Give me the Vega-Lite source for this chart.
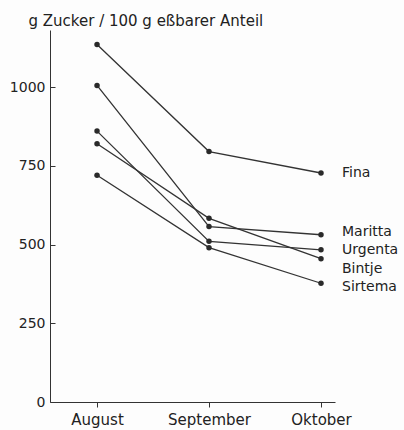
{
  "$schema": "https://vega.github.io/schema/vega-lite/v6.json",
  "autosize": {"type": "none"},
  "padding": {"left": 50, "top": 30, "right": 69, "bottom": 28},
  "width": 285,
  "height": 372,
  "background": "#fdfdfd",
  "config": {
    "view": {"stroke": null},
    "font": "DejaVu Sans",
    "axis": {"domainColor": "#333", "tickColor": "#333", "labelColor": "#222", "titleColor": "#222", "grid": false, "labelFont": "DejaVu Sans", "titleFont": "DejaVu Sans", "titleFontWeight": "normal"}
  },
  "data": {
    "values": [
      {"sorte": "Fina", "monat": 8, "zucker": 1135},
      {"sorte": "Fina", "monat": 9, "zucker": 795},
      {"sorte": "Fina", "monat": 10, "zucker": 727},
      {"sorte": "Maritta", "monat": 8, "zucker": 1005},
      {"sorte": "Maritta", "monat": 9, "zucker": 557},
      {"sorte": "Maritta", "monat": 10, "zucker": 531},
      {"sorte": "Urgenta", "monat": 8, "zucker": 860},
      {"sorte": "Urgenta", "monat": 9, "zucker": 510},
      {"sorte": "Urgenta", "monat": 10, "zucker": 483},
      {"sorte": "Bintje", "monat": 8, "zucker": 820},
      {"sorte": "Bintje", "monat": 9, "zucker": 583},
      {"sorte": "Bintje", "monat": 10, "zucker": 455},
      {"sorte": "Sirtema", "monat": 8, "zucker": 720},
      {"sorte": "Sirtema", "monat": 9, "zucker": 490},
      {"sorte": "Sirtema", "monat": 10, "zucker": 377}
    ]
  },
  "encoding": {
    "x": {
      "field": "monat",
      "type": "quantitative",
      "scale": {"domain": [7.58, 10.125], "nice": false, "zero": false},
      "axis": {
        "title": null,
        "values": [8, 9, 10],
        "labelExpr": "datum.value == 8 ? 'August' : datum.value == 9 ? 'September' : 'Oktober'",
        "labelFontSize": 15,
        "tickSize": 5,
        "labelPadding": 5,
        "labelFlush": false
      }
    },
    "y": {
      "field": "zucker",
      "type": "quantitative",
      "scale": {"domain": [0, 1181], "nice": false},
      "axis": {
        "title": "g Zucker / 100 g eßbarer Anteil",
        "titleAngle": 0,
        "titleAlign": "left",
        "titleBaseline": "alphabetic",
        "titleX": -22,
        "titleY": -5,
        "titleFontSize": 15,
        "values": [0, 250, 500, 750, 1000],
        "format": "d",
        "labelFontSize": 14,
        "tickSize": -5,
        "labelPadding": 10,
        "labelFlush": false
      }
    }
  },
  "layer": [
    {
      "mark": {"type": "line", "color": "#333", "strokeWidth": 1.3},
      "encoding": {"detail": {"field": "sorte"}}
    },
    {
      "mark": {"type": "circle", "color": "#2a2a2a", "size": 30, "opacity": 1}
    },
    {
      "transform": [{"filter": "datum.monat == 10 && (datum.sorte == 'Fina' || datum.sorte == 'Urgenta')"}],
      "mark": {"type": "text", "align": "left", "baseline": "middle", "dx": 21, "fontSize": 14, "color": "#222"},
      "encoding": {"text": {"field": "sorte"}}
    },
    {
      "transform": [{"filter": "datum.monat == 10 && datum.sorte == 'Maritta'"}],
      "mark": {"type": "text", "align": "left", "baseline": "middle", "dx": 21, "dy": -3, "fontSize": 14, "color": "#222"},
      "encoding": {"text": {"field": "sorte"}}
    },
    {
      "transform": [{"filter": "datum.monat == 10 && datum.sorte == 'Bintje'"}],
      "mark": {"type": "text", "align": "left", "baseline": "middle", "dx": 21, "dy": 10, "fontSize": 14, "color": "#222"},
      "encoding": {"text": {"field": "sorte"}}
    },
    {
      "transform": [{"filter": "datum.monat == 10 && datum.sorte == 'Sirtema'"}],
      "mark": {"type": "text", "align": "left", "baseline": "middle", "dx": 21, "dy": 4, "fontSize": 14, "color": "#222"},
      "encoding": {"text": {"field": "sorte"}}
    }
  ]
}
